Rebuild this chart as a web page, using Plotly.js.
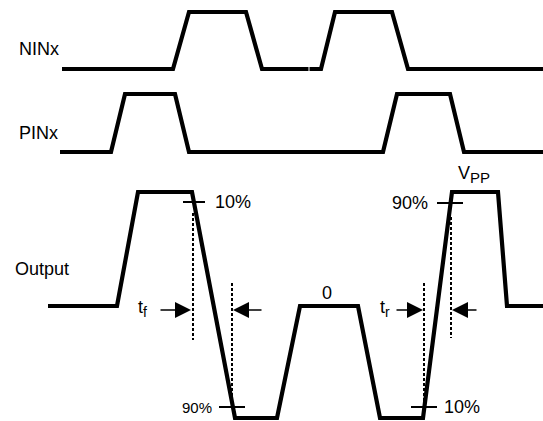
<!DOCTYPE html>
<html>
<head>
<meta charset="utf-8">
<script src="https://cdn.plot.ly/plotly-3.0.1.min.js"></script>
<style>html,body{margin:0;padding:0;background:#fff}#chart{width:543px;height:421px}</style>
</head>
<body>
<div id="chart"></div>
<script>
// Waveform data (time axis, level axis in drawing units; level axis points down)
const ninxTime  = [62, 173, 189, 246, 262, 308.5, null, 309.5, 321, 335, 392, 408, 543];
const ninxLevel = [69, 69, 12, 12, 69, 69, null, 69, 69, 12, 12, 69, 69];
const pinxTime  = [60, 111, 125, 175, 189, 383, 397, 450, 464, 543];
const pinxLevel = [152, 152, 94, 94, 152, 152, 94, 94, 152, 152];
const outTime   = [48, 117, 138, 192, 235, 277, 300, 358, 380, 423, 452, 498, 507, 543];
const outLevel  = [306, 306, 192, 192, 418, 418, 306, 306, 418, 418, 192, 192, 306, 306];

// Measurement markers
const dashTimes  = [193, 232, 424, 451];
const dashStarts = [213, 283, 283, 217];
const dashEnds   = [340, 400, 403, 338];
const tickStarts = [183, 219, 411, 437];
const tickEnds   = [205, 245, 437, 463];
const tickLevels = [202, 407, 407, 203];
const arrowTails = [159, 263, 395, 478];
const arrowHeads = [191, 233, 423, 452];
const arrowLevel = 310;

// Labels
const signalNames  = ['NINx', 'PINx', 'Output'];
const signalNameX  = [17, 17, 13];
const signalNameY  = [49, 133, 269];
const pctTexts  = ['10%', '90%', '90%', '10%'];
const pctX      = [213, 214, 430, 442];
const pctY      = [202, 407, 203, 407];
const pctAnchor = ['left', 'right', 'right', 'left'];
const pctSize   = [18, 15, 18, 18];
const otherTexts = ['t<sub><span style="font-size:14px;fill:#000;color:#000">f</span></sub>',
                    't<sub><span style="font-size:14px;fill:#000;color:#000">r</span></sub>',
                    '0',
                    'V<sub><span style="font-size:15px;fill:#000;color:#000">PP</span></sub>'];
const otherX     = [136, 378, 327, 456];
const otherY     = [308, 308, 293, 174];
const otherAnchor = ['left', 'left', 'center', 'left'];

const font = 'Liberation Sans, Arial, sans-serif';
const traces = [];
const thick = {color: '#000', width: 4.2};
[[ninxTime, ninxLevel], [pinxTime, pinxLevel], [outTime, outLevel]].forEach(([t, v]) => {
  traces.push({x: t, y: v, type: 'scatter', mode: 'lines', line: thick, hoverinfo: 'skip', connectgaps: false});
});
dashTimes.forEach((t, i) => {
  traces.push({x: [t, t], y: [dashStarts[i], dashEnds[i]], type: 'scatter', mode: 'lines',
    line: {color: '#000', width: 2, dash: '3px,2px'}, hoverinfo: 'skip'});
});
tickLevels.forEach((lv, i) => {
  traces.push({x: [tickStarts[i], tickEnds[i]], y: [lv, lv], type: 'scatter', mode: 'lines',
    line: {color: '#000', width: 2}, hoverinfo: 'skip'});
});

const annotations = [];
signalNames.forEach((n, i) => annotations.push({x: signalNameX[i], y: signalNameY[i], text: n,
  xref: 'x', yref: 'y', xanchor: 'left', yanchor: 'middle', showarrow: false,
  font: {family: font, size: 18, color: '#000'}}));
pctTexts.forEach((s, i) => annotations.push({x: pctX[i], y: pctY[i], text: s,
  xref: 'x', yref: 'y', xanchor: pctAnchor[i], yanchor: 'middle', showarrow: false,
  font: {family: font, size: pctSize[i], color: '#000'}}));
otherTexts.forEach((s, i) => annotations.push({x: otherX[i], y: otherY[i], text: s,
  xref: 'x', yref: 'y', xanchor: otherAnchor[i], yanchor: 'middle', showarrow: false,
  font: {family: font, size: 18, color: '#000'}}));
arrowHeads.forEach((h, i) => annotations.push({x: h, y: arrowLevel, ax: arrowTails[i], ay: arrowLevel,
  xref: 'x', yref: 'y', axref: 'x', ayref: 'y', text: '', showarrow: true,
  arrowhead: 2, arrowsize: 2, arrowwidth: 1.6, arrowcolor: '#000', standoff: 0}));

const layout = {
  width: 543, height: 421,
  margin: {l: 0, r: 0, t: 0, b: 0},
  paper_bgcolor: '#fff', plot_bgcolor: '#fff',
  showlegend: false,
  xaxis: {range: [0, 543], visible: false, fixedrange: true},
  yaxis: {range: [421, 0], visible: false, fixedrange: true},
  annotations: annotations
};
Plotly.newPlot('chart', traces, layout, {staticPlot: true});
</script>
</body>
</html>
